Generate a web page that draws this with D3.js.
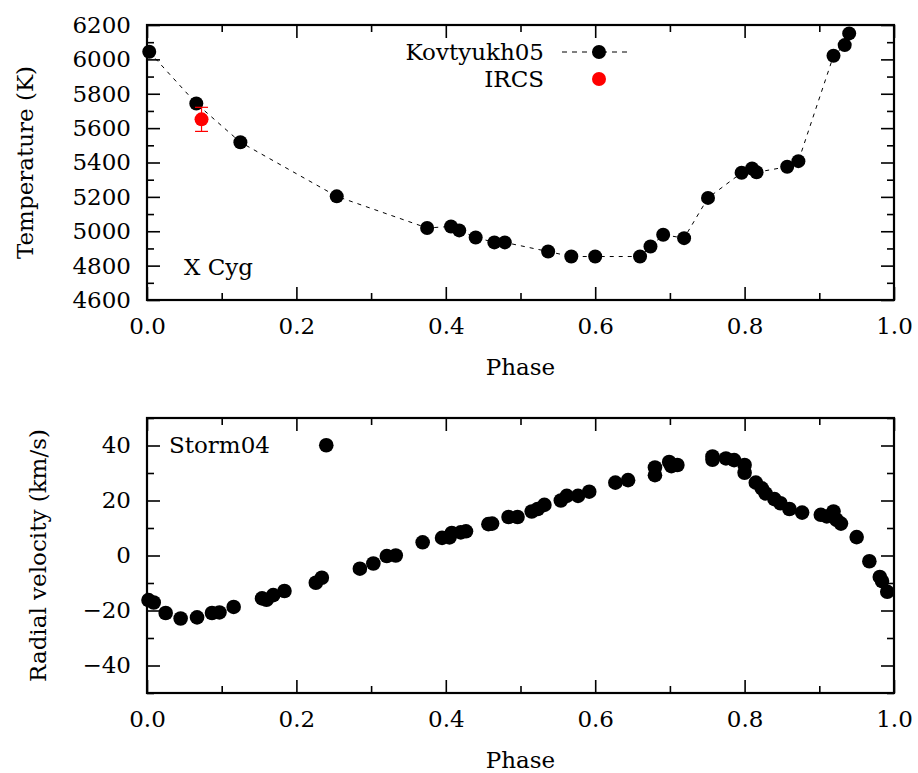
<!DOCTYPE html>
<html>
<head>
<meta charset="utf-8">
<script src="https://cdn.jsdelivr.net/npm/d3@7"></script>
<style>
  body { margin: 0; background: #fff; }
  text { font-family: "DejaVu Serif", serif; fill: #000; }
</style>
</head>
<body>
<div class="chart"></div>
<script>
// Kovtyukh05 temperatures (top panel)
var kovPhase = [0.003, 0.066, 0.125, 0.254, 0.375, 0.407, 0.418, 0.440, 0.465, 0.479,
        0.537, 0.568, 0.600, 0.660, 0.674, 0.691, 0.719, 0.751, 0.796, 0.810,
        0.816, 0.857, 0.872, 0.919, 0.934, 0.940]
var kovTeff = [6044, 5743, 5518, 5203, 5019, 5028, 5005, 4964, 4935, 4935,
        4882, 4853, 4853, 4853, 4911, 4980, 4960, 5194, 5340, 5365,
        5343, 5375, 5408, 6021, 6083, 6151]

// IRCS point with error bar
var ircsPhase = [0.073]
var ircsTeff = [5651]
var ircsErr = [70]

// Storm04 radial velocities (bottom panel)
var stormPhase = [0.002, 0.009, 0.025, 0.045, 0.067, 0.087, 0.097, 0.116, 0.154, 0.160,
        0.169, 0.184, 0.226, 0.234, 0.240, 0.285, 0.303, 0.321, 0.333, 0.369,
        0.395, 0.405, 0.408, 0.420, 0.427, 0.457, 0.462, 0.484, 0.496, 0.515,
        0.523, 0.532, 0.554, 0.562, 0.577, 0.592, 0.627, 0.644, 0.680, 0.680,
        0.699, 0.702, 0.710, 0.757, 0.757, 0.775, 0.786, 0.800, 0.800, 0.815,
        0.823, 0.828, 0.840, 0.848, 0.860, 0.877, 0.902, 0.910, 0.919, 0.923,
        0.929, 0.950, 0.967, 0.981, 0.984, 0.991]
var stormVr = [-16.2, -17.1, -20.9, -22.9, -22.5, -20.9, -20.7, -18.7, -15.6, -16.1,
        -14.4, -12.9, -9.9, -8.1, 40.1, -4.8, -2.9, -0.2, 0.0, 4.8,
        6.4, 6.6, 8.2, 8.4, 8.8, 11.4, 11.6, 14.0, 14.0, 16.0,
        16.9, 18.4, 20.0, 21.7, 21.7, 23.2, 26.5, 27.4, 29.2, 32.0,
        34.0, 32.5, 32.9, 36.0, 34.8, 35.3, 34.7, 32.9, 30.1, 26.5,
        24.4, 22.6, 20.5, 19.0, 16.9, 15.6, 14.8, 14.2, 16.0, 13.0,
        11.6, 6.7, -2.1, -7.8, -9.3, -13.2]

var phaseTicks = [0, 0.2, 0.4, 0.6, 0.8, 1.0]
var phaseMinor = [0.1, 0.3, 0.5, 0.7, 0.9]
var teffTicks = [4600, 4800, 5000, 5200, 5400, 5600, 5800, 6000, 6200]
var teffMinor = [4700, 4900, 5100, 5300, 5500, 5700, 5900, 6100]
var vrTicks = [-40, -20, 0, 20, 40]
var vrMinor = [-50, -30, -10, 10, 30, 50]

var W = 918, H = 773
var fontSize = 23

var svg = d3.select('.chart').append('svg')
    .attr('width', W)
    .attr('height', H)

// draws one framed panel with inward ticks on all four sides
function makePanel(top, bottom, yDomain, yMajor, yMinor, yLabel, yLabelX){
    var x = d3.scaleLinear().domain([0, 1]).range([147, 894])
    var y = d3.scaleLinear().domain(yDomain).range([bottom, top])
    var g = svg.append('g')

    function addAxis(axis, tx, ty){
        var a = g.append('g')
            .attr('transform', 'translate(' + tx + ',' + ty + ')')
            .call(axis)
        a.select('.domain').remove()
        a.selectAll('line').attr('stroke', '#000').attr('stroke-width', 1.6)
        a.selectAll('text').style('font-size', fontSize + 'px').style('font-family', '"DejaVu Serif", serif')
        return a
    }

    // bottom & top
    addAxis(d3.axisBottom(x).tickValues(phaseTicks).tickSize(-13).tickPadding(18).tickFormat(d3.format('.1f')), 0, bottom)
    addAxis(d3.axisBottom(x).tickValues(phaseMinor).tickSize(-7).tickFormat(''), 0, bottom)
    addAxis(d3.axisTop(x).tickValues(phaseTicks).tickSize(-13).tickFormat(''), 0, top)
    addAxis(d3.axisTop(x).tickValues(phaseMinor).tickSize(-7).tickFormat(''), 0, top)
    // left & right
    addAxis(d3.axisLeft(y).tickValues(yMajor).tickSize(-13).tickPadding(16).tickFormat(d3.format('d')), 147, 0)
    addAxis(d3.axisLeft(y).tickValues(yMinor).tickSize(-7).tickFormat(''), 147, 0)
    addAxis(d3.axisRight(y).tickValues(yMajor).tickSize(-13).tickFormat(''), 894, 0)
    addAxis(d3.axisRight(y).tickValues(yMinor).tickSize(-7).tickFormat(''), 894, 0)

    g.append('rect')
        .attr('x', 147).attr('y', top)
        .attr('width', 894 - 147).attr('height', bottom - top)
        .attr('fill', 'none')
        .attr('stroke', '#000')
        .attr('stroke-width', 2.2)

    g.append('text')
        .attr('x', (147 + 894) / 2)
        .attr('y', bottom + 67)
        .attr('dy', '0.35em')
        .attr('text-anchor', 'middle')
        .style('font-size', fontSize + 'px')
        .text('Phase')

    g.append('text')
        .attr('transform', 'translate(' + yLabelX + ',' + (top + bottom) / 2 + ') rotate(-90)')
        .attr('text-anchor', 'middle')
        .attr('dy', '0.35em')
        .style('font-size', fontSize + 'px')
        .text(yLabel)

    return {g: g, x: x, y: y}
}

// ---------------- top panel ----------------
var p1 = makePanel(25, 300, [4600, 6200], teffTicks, teffMinor, 'Temperature (K)', 25)

var kovData = kovPhase.map(function(d, i){ return {phase: d, val: kovTeff[i]} })

p1.g.append('path')
    .datum(kovData)
    .attr('d', d3.line().x(function(d){ return p1.x(d.phase) }).y(function(d){ return p1.y(d.val) }))
    .attr('fill', 'none')
    .attr('stroke', '#000')
    .attr('stroke-width', 1)
    .attr('stroke-dasharray', '4,5')

p1.g.selectAll('.kov').data(kovData)
    .enter().append('circle')
    .attr('class', 'kov')
    .attr('cx', function(d){ return p1.x(d.phase) })
    .attr('cy', function(d){ return p1.y(d.val) })
    .attr('r', 7)
    .attr('fill', '#000')

var ircsData = ircsPhase.map(function(d, i){ return {phase: d, val: ircsTeff[i], err: ircsErr[i]} })
var eb = p1.g.selectAll('.ircs').data(ircsData).enter().append('g').attr('class', 'ircs')
eb.append('line')
    .attr('x1', function(d){ return p1.x(d.phase) }).attr('x2', function(d){ return p1.x(d.phase) })
    .attr('y1', function(d){ return p1.y(d.val - d.err) }).attr('y2', function(d){ return p1.y(d.val + d.err) })
    .attr('stroke', '#f00').attr('stroke-width', 1.2)
eb.append('line')
    .attr('x1', function(d){ return p1.x(d.phase) - 6.5 }).attr('x2', function(d){ return p1.x(d.phase) + 6.5 })
    .attr('y1', function(d){ return p1.y(d.val - d.err) }).attr('y2', function(d){ return p1.y(d.val - d.err) })
    .attr('stroke', '#f00').attr('stroke-width', 1.2)
eb.append('line')
    .attr('x1', function(d){ return p1.x(d.phase) - 6.5 }).attr('x2', function(d){ return p1.x(d.phase) + 6.5 })
    .attr('y1', function(d){ return p1.y(d.val + d.err) }).attr('y2', function(d){ return p1.y(d.val + d.err) })
    .attr('stroke', '#f00').attr('stroke-width', 1.2)
eb.append('circle')
    .attr('cx', function(d){ return p1.x(d.phase) })
    .attr('cy', function(d){ return p1.y(d.val) })
    .attr('r', 7)
    .attr('fill', '#f00')

// legend
var leg = p1.g.append('g')
leg.append('text').attr('x', 544).attr('y', 52).attr('dy', '0.35em').attr('text-anchor', 'end')
    .style('font-size', fontSize + 'px').text('Kovtyukh05')
leg.append('line').attr('x1', 562).attr('x2', 627).attr('y1', 52).attr('y2', 52)
    .attr('stroke', '#000').attr('stroke-width', 1).attr('stroke-dasharray', '5,5')
leg.append('circle').attr('cx', 599).attr('cy', 52).attr('r', 7).attr('fill', '#000')
leg.append('text').attr('x', 544).attr('y', 79).attr('dy', '0.35em').attr('text-anchor', 'end')
    .style('font-size', fontSize + 'px').text('IRCS')
leg.append('circle').attr('cx', 599).attr('cy', 79).attr('r', 7).attr('fill', '#f00')

p1.g.append('text').attr('x', 184).attr('y', 267).attr('dy', '0.35em')
    .style('font-size', fontSize + 'px').text('X Cyg')

// ---------------- bottom panel ----------------
var p2 = makePanel(418, 693, [-50, 50], vrTicks, vrMinor, 'Radial velocity (km/s)', 38)

var stormData = stormPhase.map(function(d, i){ return {phase: d, val: stormVr[i]} })
p2.g.selectAll('.storm').data(stormData)
    .enter().append('circle')
    .attr('class', 'storm')
    .attr('cx', function(d){ return p2.x(d.phase) })
    .attr('cy', function(d){ return p2.y(d.val) })
    .attr('r', 7.3)
    .attr('fill', '#000')

p2.g.append('text').attr('x', 169).attr('y', 445).attr('dy', '0.35em')
    .style('font-size', fontSize + 'px').text('Storm04')
</script>
</body>
</html>
